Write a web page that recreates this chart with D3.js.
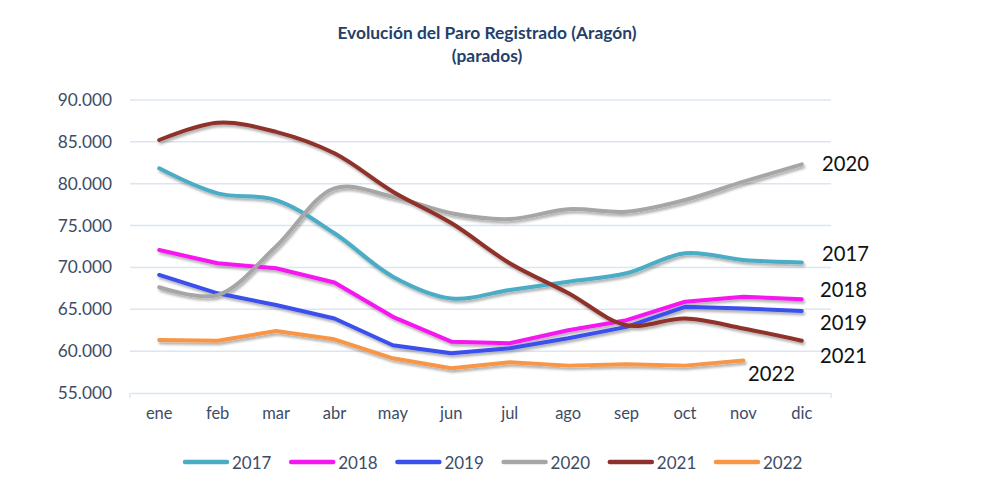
<!DOCTYPE html>
<html>
<head>
<meta charset="utf-8">
<script src="https://cdn.jsdelivr.net/npm/d3@7"></script>
<style>
  html, body { margin: 0; padding: 0; background: #ffffff; }
  svg { display: block; }
  text { font-family: Lato, "Open Sans", sans-serif; }
</style>
</head>
<body>
<svg id="chart" width="990" height="491"></svg>
<script>
// ---- Data ----
const months = ["ene","feb","mar","abr","may","jun","jul","ago","sep","oct","nov","dic"];
const years = ["2017","2018","2019","2020","2021","2022"];
const s2017 = [81840,78850,78050,74080,68900,66300,67300,68300,69300,71700,70900,70600];
const s2018 = [72080,70500,69900,68200,64100,61130,60940,62500,63700,65900,66500,66200];
const s2019 = [69100,66910,65510,63900,60700,59740,60340,61540,62900,65300,65100,64800];
const s2020 = [67630,66700,72500,79450,78450,76470,75780,76950,76660,78050,80240,82320];
const s2021 = [85220,87290,86200,83630,79050,75300,70500,66950,63100,63900,62700,61250];
const s2022 = [61330,61250,62400,61410,59140,57950,58670,58270,58430,58270,58870,null];
const yTicks = [55000,60000,65000,70000,75000,80000,85000,90000];
const titleLines = ["Evolución del Paro Registrado (Aragón)", "(parados)"];

const seriesValues = [s2017, s2018, s2019, s2020, s2021, s2022];

// ---- Styles ----
const colors = {"2017":"#4bacc6","2018":"#f516f0","2019":"#3a50ec","2020":"#a6a6a6","2021":"#8e302c","2022":"#f79646"};
const smooth = {"2017":true,"2018":false,"2019":false,"2020":true,"2021":true,"2022":false};
const endLabelPos = {
  "2020": {x:822, y:171},
  "2017": {x:822, y:261},
  "2018": {x:820, y:297},
  "2019": {x:820, y:330},
  "2021": {x:820, y:363},
  "2022": {x:748, y:381}
};
const axisColor = "#3d4c66";
const gridColor = "#dce6f2";

const svg = d3.select("#chart");

const defs = svg.append("defs");
const f = defs.append("filter").attr("id","shadow").attr("x","-5%").attr("y","-20%").attr("width","110%").attr("height","140%");
f.append("feDropShadow").attr("dx",1.5).attr("dy",2.5).attr("stdDeviation",1.3)
  .attr("flood-color","#000").attr("flood-opacity",0.3);

const x = d3.scaleBand().domain(months).range([130, 831]).padding(0);
const y = d3.scaleLinear().domain([55000, 90000]).range([393, 100]);
const cx = m => x(m) + x.bandwidth() / 2;

const loc = d3.formatLocale({decimal: ",", thousands: ".", grouping: [3], currency: ["", ""]});
const fmt = loc.format(",.0f");

// Title
svg.append("g").selectAll("text").data(titleLines).join("text")
  .attr("x", 487).attr("y", (d,i) => i === 0 ? 39 : 62)
  .attr("text-anchor","middle")
  .attr("font-size", 17.4).attr("font-weight", "bold")
  .attr("fill", "#243f6a")
  .text(d => d);

// Gridlines + y axis labels
const yAxis = d3.axisLeft(y).tickValues(yTicks).tickSize(0).tickPadding(18).tickFormat(fmt);
const gy = svg.append("g").attr("transform","translate(130,0)").call(yAxis);
gy.select(".domain").remove();
gy.selectAll("text").attr("font-size", 17.3).attr("fill", axisColor).attr("font-family","Lato, 'Open Sans', sans-serif");

svg.append("g").selectAll("line").data(yTicks.filter(t => t !== 55000)).join("line")
  .attr("x1", 130).attr("x2", 831)
  .attr("y1", d => y(d)).attr("y2", d => y(d))
  .attr("stroke", gridColor).attr("stroke-width", 1.5);

// x axis
const xAxis = d3.axisBottom(x).tickSize(0).tickPadding(14);
const gx = svg.append("g").attr("transform", `translate(0,${y(55000)})`).call(xAxis);
gx.select(".domain").attr("stroke", gridColor).attr("stroke-width", 1.5);
gx.selectAll("text").attr("font-size", 16.5).attr("fill", axisColor).attr("font-family","Lato, 'Open Sans', sans-serif");
svg.append("g").selectAll("line").data([130, 831]).join("line")
  .attr("x1", d => d).attr("x2", d => d)
  .attr("y1", y(55000)).attr("y2", y(55000) + 5)
  .attr("stroke", gridColor).attr("stroke-width", 1.5);

// Lines
const series = years.map((yr, i) => ({
  year: yr,
  values: months.map((m, j) => ({m, v: seriesValues[i][j]})).filter(d => d.v != null)
}));

const drawOrder = ["2022","2019","2018","2017","2020","2021"];
const gLines = svg.append("g").attr("filter","url(#shadow)");
drawOrder.forEach(yr => {
  const s = series.find(d => d.year === yr);
  const line = d3.line().x(d => cx(d.m)).y(d => y(d.v))
    .curve(smooth[yr] ? d3.curveCatmullRom.alpha(0.5) : d3.curveLinear);
  gLines.append("path").datum(s.values)
    .attr("d", line)
    .attr("fill","none")
    .attr("stroke", colors[yr])
    .attr("stroke-width", 4)
    .attr("stroke-linecap","round")
    .attr("stroke-linejoin","round");
});

// End labels
svg.append("g").selectAll("text").data(years).join("text")
  .attr("x", d => endLabelPos[d].x).attr("y", d => endLabelPos[d].y)
  .attr("font-size", 20.2).attr("fill", "#111")
  .text(d => d);

// Legend
const lg = svg.append("g").selectAll("g").data(years).join("g")
  .attr("transform", (d,i) => `translate(${185 + i * 106.2},462)`);
lg.append("line").attr("x1", 0).attr("x2", 42).attr("y1", 0).attr("y2", 0)
  .attr("stroke", d => colors[d]).attr("stroke-width", 4.5).attr("stroke-linecap","round");
lg.append("text").attr("x", 47).attr("y", 6.5)
  .attr("font-size", 17).attr("fill", axisColor)
  .text(d => d);
</script>
</body>
</html>
